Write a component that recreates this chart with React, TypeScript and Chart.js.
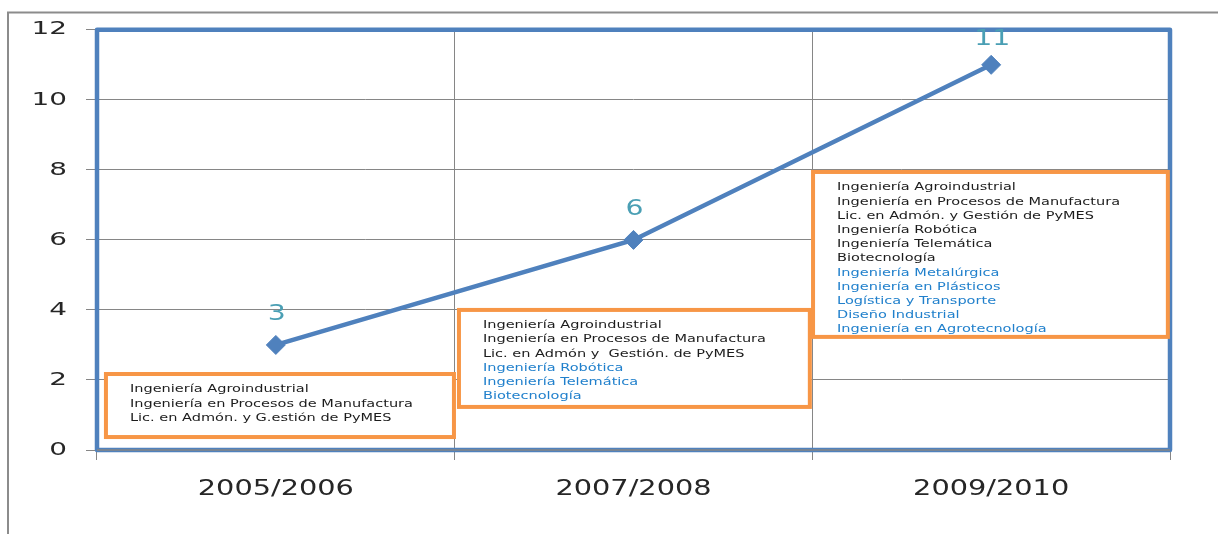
import React, { useEffect, useRef } from 'react';
import { Chart, registerables } from 'chart.js';

Chart.register(...registerables);

// ---------- data ----------
const categories = ['2005/2006', '2007/2008', '2009/2010'];
const programCounts = [3, 6, 11];
const continuingPrograms = [
  ['Ingeniería Agroindustrial', 'Ingeniería en Procesos de Manufactura', 'Lic. en Admón. y G.estión de PyMES'],
  ['Ingeniería Agroindustrial', 'Ingeniería en Procesos de Manufactura', 'Lic. en Admón y  Gestión. de PyMES'],
  [
    'Ingeniería Agroindustrial',
    'Ingeniería en Procesos de Manufactura',
    'Lic. en Admón. y Gestión de PyMES',
    'Ingeniería Robótica',
    'Ingeniería Telemática',
    'Biotecnología',
  ],
];
const newPrograms = [
  [],
  ['Ingeniería Robótica', 'Ingeniería Telemática', 'Biotecnología'],
  ['Ingeniería Metalúrgica', 'Ingeniería en Plásticos', 'Logística y Transporte', 'Diseño Industrial', 'Ingeniería en Agrotecnología'],
];
const yMin = 0;
const yMax = 12;
const yStep = 2;

// ---------- annotation layout (scale units: category index, value) ----------
const boxExtents = [
  { xFrom: -0.475, xTo: 0.498, yFrom: 0.37, yTo: 2.17 },
  { xFrom: 0.512, xTo: 1.493, yFrom: 1.23, yTo: 4.0 },
  { xFrom: 1.502, xTo: 2.494, yFrom: 3.23, yTo: 7.94 },
];

const BLUE = '#4F81BD';
const ORANGE = '#F79646';
const GRID = '#868686';
const LABEL_TEAL = '#4A9FB4';
const TEXT_DARK = '#1c1c1c';
const TEXT_BLUE = '#2180CC';
const FONT = "'DejaVu Sans', Verdana, sans-serif";

// horizontal stretch of the text (the original picture is widened)
const X_LABEL_STRETCH = 1.37;
const Y_LABEL_STRETCH = 1.55;
const DATA_LABEL_STRETCH = 1.35;
const BOX_TEXT_STRETCH = 1.32;

const framePlugin = {
  id: 'outerFrame',
  beforeDraw(chart: any) {
    const ctx = chart.ctx;
    ctx.save();
    ctx.strokeStyle = '#8c8c8c';
    ctx.lineWidth = 2;
    ctx.beginPath();
    ctx.moveTo(8, chart.height);
    ctx.lineTo(8, 12.5);
    ctx.lineTo(chart.width, 12.5);
    ctx.stroke();
    ctx.restore();

    // stretch axis labels horizontally around their own anchor
    const stretch: Record<string, number> = { x: X_LABEL_STRETCH, y: Y_LABEL_STRETCH };
    for (const id of Object.keys(stretch)) {
      const s: any = chart.scales[id];
      if (s && !s.__stretched) {
        const orig = s.drawLabels.bind(s);
        s.drawLabels = (area: any) => {
          const c: any = chart.ctx;
          const origRotate = c.rotate;
          c.rotate = function (a: number) {
            origRotate.call(this, a);
            this.scale(stretch[id], 1);
          };
          try {
            orig(area);
          } finally {
            c.rotate = origRotate;
          }
        };
        s.__stretched = true;
      }
    }
  },
};

const plotBorderPlugin = {
  id: 'plotBorder',
  beforeDatasetsDraw(chart: any) {
    const { ctx, chartArea } = chart;
    const { left, top, right, bottom } = chartArea;
    ctx.save();
    ctx.strokeStyle = BLUE;
    ctx.lineWidth = 4.5;
    ctx.lineJoin = 'round';
    ctx.strokeRect(left, top, right - left, bottom - top);
    ctx.strokeStyle = GRID;
    ctx.lineWidth = 1.5;
    ctx.beginPath();
    ctx.moveTo(left, bottom);
    ctx.lineTo(right, bottom);
    ctx.stroke();
    ctx.restore();
  },
};

function stretchedText(ctx: any, text: string, x: number, y: number, sx: number) {
  ctx.save();
  ctx.translate(x, y);
  ctx.scale(sx, 1);
  ctx.fillText(text, 0, 0);
  ctx.restore();
}

const annotationPlugin = {
  id: 'annotations',
  afterDatasetsDraw(chart: any) {
    const { ctx } = chart;
    const xs = chart.scales.x;
    const ys = chart.scales.y;

    // program boxes
    boxExtents.forEach((b, i) => {
      const x0 = xs.getPixelForValue(b.xFrom);
      const x1 = xs.getPixelForValue(b.xTo);
      const y0 = ys.getPixelForValue(b.yTo);
      const y1 = ys.getPixelForValue(b.yFrom);
      ctx.save();
      ctx.fillStyle = '#ffffff';
      ctx.fillRect(x0, y0, x1 - x0, y1 - y0);
      ctx.strokeStyle = ORANGE;
      ctx.lineWidth = 4;
      ctx.strokeRect(x0, y0, x1 - x0, y1 - y0);

      ctx.font = `11px ${FONT}`;
      ctx.textAlign = 'left';
      ctx.textBaseline = 'middle';
      const lines = [
        ...continuingPrograms[i].map((t) => ({ t, c: TEXT_DARK })),
        ...newPrograms[i].map((t) => ({ t, c: TEXT_BLUE })),
      ];
      lines.forEach((ln, k) => {
        ctx.fillStyle = ln.c;
        stretchedText(ctx, ln.t, x0 + 24, y0 + 15.5 + k * 14.2, BOX_TEXT_STRETCH);
      });
      ctx.restore();
    });

    // data labels
    const meta = chart.getDatasetMeta(0);
    ctx.save();
    ctx.font = `21px ${FONT}`;
    ctx.fillStyle = LABEL_TEAL;
    ctx.textAlign = 'center';
    ctx.textBaseline = 'middle';
    meta.data.forEach((pt: any, i: number) => {
      const y = Math.max(pt.y - 30, 40);
      stretchedText(ctx, String(programCounts[i]), pt.x + 1, y, DATA_LABEL_STRETCH);
    });
    ctx.restore();
  },
};

export default function App() {
  const canvasRef = useRef<HTMLCanvasElement | null>(null);

  useEffect(() => {
    const canvas = canvasRef.current;
    if (!canvas) return;
    const chart = new Chart(canvas, {
      type: 'line',
      data: {
        labels: categories,
        datasets: [
          {
            data: programCounts,
            borderColor: BLUE,
            backgroundColor: BLUE,
            borderWidth: 4.5,
            pointStyle: 'rectRot',
            pointRadius: 9.5,
            pointBackgroundColor: BLUE,
            pointBorderColor: BLUE,
            pointBorderWidth: 1,
            tension: 0,
          },
        ],
      },
      options: {
        responsive: false,
        animation: false,
        layout: { padding: { top: 29, right: 48, left: 0, bottom: 0 } },
        plugins: {
          legend: { display: false },
          tooltip: { enabled: false },
        },
        scales: {
          x: {
            type: 'category',
            offset: true,
            grid: { offset: true, color: GRID, lineWidth: 1, tickLength: 10 },
            border: { display: false },
            ticks: {
              font: { family: FONT, size: 21 },
              color: '#262626',
              padding: 17,
              maxRotation: 0,
            },
            afterFit: (s: any) => {
              s.height = 84;
            },
          },
          y: {
            min: yMin,
            max: yMax,
            grid: { color: GRID, lineWidth: 1, tickLength: 11 },
            border: { display: false },
            ticks: {
              stepSize: yStep,
              font: { family: FONT, size: 18 },
              color: '#262626',
              padding: 19,
            },
            afterFit: (s: any) => {
              s.width = 97;
            },
          },
        },
      },
      plugins: [framePlugin, plotBorderPlugin, annotationPlugin],
    } as any);
    return () => chart.destroy();
  }, []);

  return (
    <div style={{ position: 'absolute', left: 0, top: 0, width: 1218, height: 534, background: '#ffffff' }}>
      <canvas ref={canvasRef} width={1218} height={534} style={{ display: 'block' }} />
    </div>
  );
}
